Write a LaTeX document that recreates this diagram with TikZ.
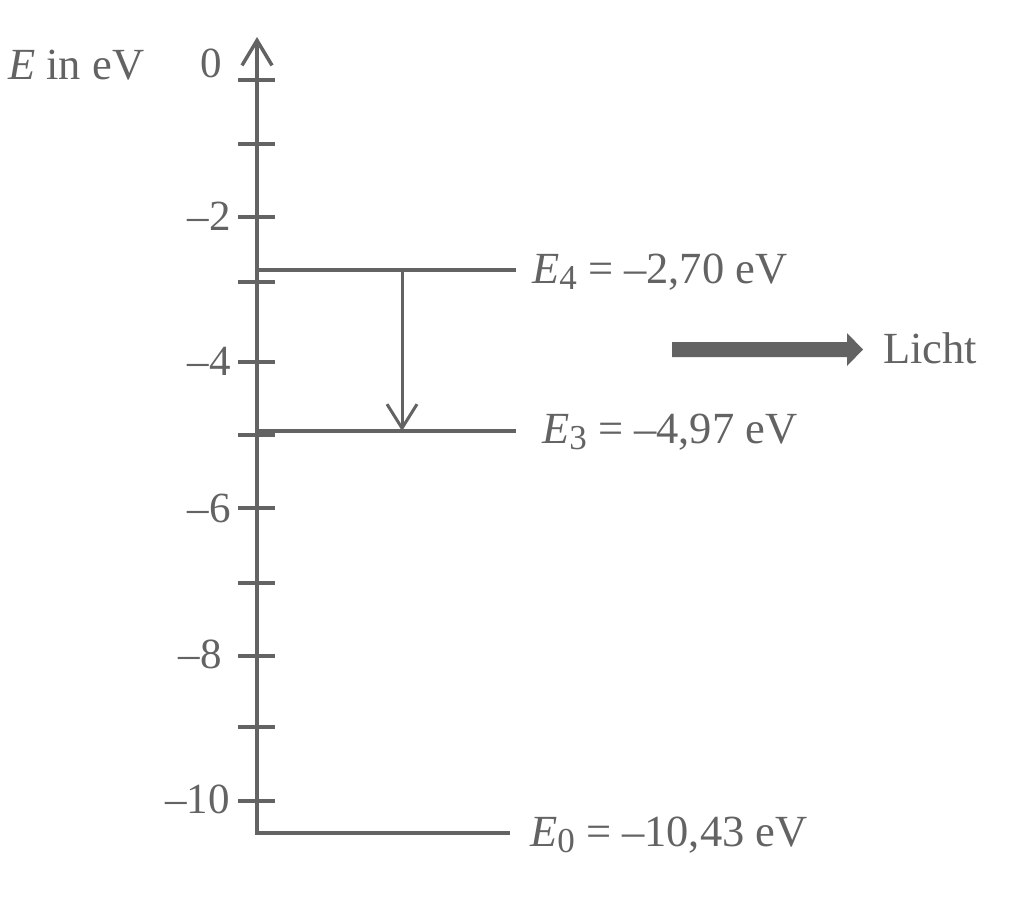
\documentclass[tikz,border=0pt]{standalone}
\usepackage{fontspec}
\setmainfont{Liberation Serif}
\usetikzlibrary{arrows.meta}
\definecolor{ink}{RGB}{99,99,99}
\newcommand{\lvlsub}[1]{\raisebox{-0.15em}{\fontsize{35}{35}\selectfont #1}}
\begin{document}
\begin{tikzpicture}[x=1pt,y=-1pt,
  axisline/.style={draw=ink,line width=4pt},
  tickmark/.style={draw=ink,line width=3.5pt},
  levelline/.style={draw=ink,line width=4pt},
  lbl/.style={text=ink,font=\fontsize{44.5}{50}\selectfont,inner sep=0pt},
  ticklbl/.style={text=ink,font=\fontsize{43}{50}\selectfont,inner sep=0pt,anchor=base east},
  barb/.style={-{Straight Barb[length=25pt,width=30pt,line width=3.5pt]}}]
\useasboundingbox (0,0) rectangle (1024,908);
% axis
\coordinate (ax0) at (257,833);
\coordinate (axtop) at (257,37);
\draw[axisline,barb,line cap=butt] (ax0) -- (axtop);
% ticks
\foreach \yy/\nm in {80/t0,144/t1,217/t2,282/t3,362/t4,435/t5,508/t6,583/t7,656/t8,727/t9,801/t10}{
  \coordinate (\nm l) at (238,\yy);
  \coordinate (\nm r) at (275,\yy);
  \draw[tickmark] (\nm l) -- (\nm r);
}
\node[ticklbl] (n0) at (222,77) {0};
\node[ticklbl] (n2) at (231,230) {–2};
\node[ticklbl] (n4) at (231,375) {–4};
\node[ticklbl] (n6) at (231,522) {–6};
\node[ticklbl] (n8) at (222,668) {–8};
\node[ticklbl] (n10) at (230,813) {–10};
\node[lbl,anchor=base west] (ylab) at (8,79) {\textit{E} in eV};
% levels
\coordinate (L4) at (257,270); \coordinate (R4) at (516,270);
\coordinate (L3) at (257,431); \coordinate (R3) at (516,431);
\coordinate (R0) at (510,833);
\draw[levelline] (L4) -- (R4);
\draw[levelline] (L3) -- (R3);
\draw[levelline,line cap=butt] (255,833) -- (R0);
\node[lbl,anchor=base west] (E4) at (532,283) {\textit{E}\lvlsub{4} = –2,70 eV};
\node[lbl,anchor=base west] (E3) at (542,443) {\textit{E}\lvlsub{3} = –4,97 eV};
\node[lbl,anchor=base west] (E0) at (530,846) {\textit{E}\lvlsub{0} = –10,43 eV};
% transition
\coordinate (a4) at (402,270);
\coordinate (a3) at (402,431);
\draw[draw=ink,line width=3pt,-{Straight Barb[length=24pt,width=30pt,line width=3pt]}] (a4) -- (a3);
% light arrow
\fill[ink] (672,342) -- (847,342) -- (847,333) -- (863,349.5) -- (847,366) -- (847,357) -- (672,357) -- cycle;
\node[lbl,anchor=base west] (licht) at (883,363) {Licht};
\end{tikzpicture}
\end{document}
